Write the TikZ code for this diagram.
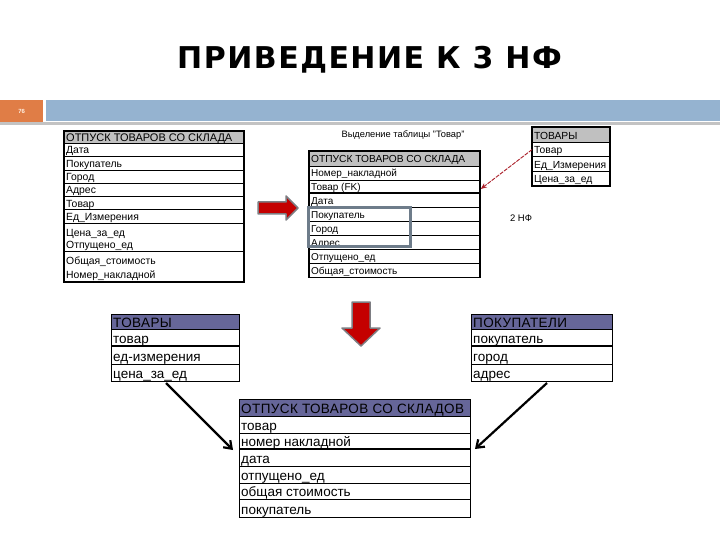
\documentclass[tikz,border=0pt]{standalone}
\usepackage{fontspec}
\setmainfont{Liberation Sans}
\newfontfamily\titlefont[LetterSpace=5]{DejaVu Sans}
\usetikzlibrary{arrows.meta,calc}
\definecolor{orangeC}{RGB}{224,125,70}
\definecolor{barblue}{RGB}{149,179,208}
\definecolor{lightrule}{RGB}{195,195,195}
\definecolor{hdrgray}{RGB}{192,192,192}
\definecolor{hdrpurple}{RGB}{102,102,153}
\definecolor{blockred}{RGB}{196,0,0}
\definecolor{blockedge}{RGB}{125,125,130}
\definecolor{selgray}{RGB}{110,124,138}
\definecolor{thinred}{RGB}{170,30,40}
\newcommand\mkcell[8]{%
  \node[cellbox, fill=#6, minimum width=#4pt, minimum height=#5pt] (#1) at (#2,#3) {};
  \node[celltext, #7] (#1t) at (#1.south west) {#8};}
\newcommand\mkcelltwo[9]{%
  \node[cellbox, fill=white, minimum width=#4pt, minimum height=#5pt] (#1) at (#2,#3) {};
  \node[celltext, #6] (#1t) at (#1.south west) {#9};
  \node[celltext, #6, yshift=#7pt] (#1u) at (#1.south west) {#8};}
\tikzset{
  cellbox/.style={draw=black, line width=0.8pt, anchor=north west, inner sep=0pt},
  celltext/.style={anchor=base west, inner xsep=2pt, inner ysep=0pt},
  tAh/.style={font=\fontsize{11}{12}\selectfont, yshift=2.5pt},
  tA/.style={font=\fontsize{10.4}{12}\selectfont, yshift=3.2pt},
  tA3/.style={font=\fontsize{10.4}{12}\selectfont, yshift=3.8pt},
  tB/.style={font=\fontsize{10}{11}\selectfont, yshift=3.6pt},
  tBh/.style={font=\fontsize{10.2}{11}\selectfont, yshift=3.8pt},
  tC/.style={font=\fontsize{10.3}{11}\selectfont, yshift=3.5pt},
  tD/.style={font=\fontsize{13.5}{15}\selectfont, yshift=3.3pt},
  tDh/.style={font=\fontsize{13.5}{15}\selectfont\addfontfeature{LetterSpace=3}, yshift=2.5pt},
  thickrule/.style={line width=2pt},
  outerbox/.style={draw=black, line width=1.5pt},
  blkarrow/.style={line width=2.2pt, -{Straight Barb[length=7pt,width=10pt,line width=2.2pt]}},
  redarrow/.style={draw=thinred, line width=0.9pt, dash pattern=on 4pt off 1.2pt, -{Stealth[length=6pt,width=5pt]}},
  blockarrow/.style={fill=blockred, draw=blockedge, line width=1.5pt, line join=round}
}
\begin{document}
\begin{tikzpicture}[x=1pt,y=-1pt]
\useasboundingbox (0,0) rectangle (720,540);
\fill[white] (0,0) rectangle (720,540);
% title
\node[font=\titlefont\bfseries\fontsize{30}{36}\selectfont, anchor=base, inner sep=0pt] (title) at (369.5,69) {ПРИВЕДЕНИЕ К 3 НФ};
% header band
\fill[lightrule] (0,122.5) rectangle (720,125);
\node[fill=orangeC, anchor=north west, minimum width=43pt, minimum height=22pt, inner sep=0pt] (numbox) at (0,100) {};
\node[font=\fontsize{6}{7}\selectfont\bfseries, text=white!90!orange] (num) at (numbox.center) {76};
\node[fill=barblue, anchor=north west, minimum width=674pt, minimum height=21pt, inner sep=0pt] (bar) at (46,100) {};

% ---------- table 1 ----------
\mkcell{t1h}{64}{131}{179}{12}{hdrgray}{tAh, yshift=-0.5pt}{ОТПУСК ТОВАРОВ СО СКЛАДА}
\mkcell{t1r1}{64}{143}{179}{13.3}{white}{tA}{Дата}
\mkcell{t1r2}{64}{156.3}{179}{13.3}{white}{tA}{Покупатель}
\mkcell{t1r3}{64}{169.6}{179}{13.3}{white}{tA}{Город}
\mkcell{t1r4}{64}{182.9}{179}{13.3}{white}{tA}{Адрес}
\mkcell{t1r5}{64}{196.2}{179}{13.3}{white}{tA}{Товар}
\mkcell{t1r6}{64}{209.5}{179}{13.3}{white}{tA}{Ед\_Измерения}
\mkcelltwo{t1r7}{64}{222.8}{179}{28.2}{tA}{12}{Цена\_за\_ед}{Отпущено\_ед}
\mkcelltwo{t1r8}{64}{251}{179}{30}{tA3}{13.5}{Общая\_стоимость}{Номер\_накладной}
\draw[outerbox] (t1h.north west) rectangle (t1r8.south east);

% ---------- table 2 ----------
\node[font=\fontsize{9.3}{10}\selectfont] (t2cap) at (403,135) {Выделение таблицы "Товар"};
\mkcell{t2h}{309}{151}{170}{14.7}{hdrgray}{tBh}{ОТПУСК ТОВАРОВ СО СКЛАДА}
\mkcell{t2r1}{309}{165.7}{170}{13.9}{white}{tB}{Номер\_накладной}
\mkcell{t2r2}{309}{179.6}{170}{13.9}{white}{tB}{Товар (FK)}
\mkcell{t2r3}{309}{193.5}{170}{13.9}{white}{tB}{Дата}
\mkcell{t2r4}{309}{207.4}{170}{13.9}{white}{tB}{Покупатель}
\mkcell{t2r5}{309}{221.3}{170}{13.9}{white}{tB}{Город}
\mkcell{t2r6}{309}{235.2}{170}{13.9}{white}{tB}{Адрес}
\mkcell{t2r7}{309}{249.1}{170}{13.9}{white}{tB}{Отпущено\_ед}
\mkcell{t2r8}{309}{263}{170}{13.9}{white}{tB}{Общая\_стоимость}
\draw[outerbox] (t2h.north west) rectangle (t2r8.south east);
\draw[thickrule] (t2r3.north west) -- (t2r3.north east);
\draw[draw=selgray, line width=3pt] (308.5,208) rectangle (410,246.5);

% ---------- table 3 ----------
\mkcell{t3h}{532}{127}{77}{15}{hdrgray}{tC}{ТОВАРЫ}
\mkcell{t3r1}{532}{142}{77}{14.4}{white}{tC}{Товар}
\mkcell{t3r2}{532}{156.4}{77}{14.4}{white}{tC}{Ед\_Измерения}
\mkcell{t3r3}{532}{170.8}{77}{14.4}{white}{tC}{Цена\_за\_ед}
\draw[outerbox] (t3h.north west) rectangle (t3r3.south east);
\draw[redarrow] (t3r1.west) -- ($(t2r2.east)+(1,2)$);
\node[font=\fontsize{9.5}{10}\selectfont] (nf2) at (521,218) {2 НФ};

% ---------- block arrows ----------
\draw[blockarrow] (258,202) -- (286,202) -- (286,196) -- (298,208) -- (286,220) -- (286,214) -- (258,214) -- cycle;
\draw[blockarrow] (352,302) -- (370,302) -- (370,328) -- (380,328) -- (361,346) -- (342,328) -- (352,328) -- cycle;

% ---------- bottom: ТОВАРЫ ----------
\mkcell{b1h}{111}{314}{128}{15}{hdrpurple}{tDh}{ТОВАРЫ}
\mkcell{b1r1}{111}{329}{128}{17}{white}{tD}{товар}
\mkcell{b1r2}{111}{346}{128}{17.5}{white}{tD}{ед-измерения}
\mkcell{b1r3}{111}{363.5}{128}{17.5}{white}{tD}{цена\_за\_ед}
\draw[thickrule] (b1r2.north west) -- (b1r2.north east);

% ---------- bottom: ПОКУПАТЕЛИ ----------
\mkcell{b2h}{471}{314}{141}{15}{hdrpurple}{tDh}{ПОКУПАТЕЛИ}
\mkcell{b2r1}{471}{329}{141}{17}{white}{tD}{покупатель}
\mkcell{b2r2}{471}{346}{141}{17.5}{white}{tD}{город}
\mkcell{b2r3}{471}{363.5}{141}{17.5}{white}{tD}{адрес}
\draw[thickrule] (b2r2.north west) -- (b2r2.north east);

% ---------- bottom: ОТПУСК ----------
\mkcell{b3h}{239}{399}{231}{17}{hdrpurple}{tDh, yshift=0.5pt}{ОТПУСК ТОВАРОВ СО СКЛАДОВ}
\mkcell{b3r1}{239}{416}{231}{16.5}{white}{tD}{товар}
\mkcell{b3r2}{239}{432.5}{231}{16.5}{white}{tD}{номер накладной}
\mkcell{b3r3}{239}{449}{231}{16.8}{white}{tD}{дата}
\mkcell{b3r4}{239}{465.8}{231}{16.8}{white}{tD}{отпущено\_ед}
\mkcell{b3r5}{239}{482.6}{231}{16.8}{white}{tD}{общая стоимость}
\mkcell{b3r6}{239}{499.4}{231}{17.6}{white}{tD}{покупатель}
\draw[thickrule] (b3r3.north west) -- (b3r3.north east);

% ---------- black arrows ----------
\coordinate (a1s) at (166,383);
\coordinate (a1e) at (233,450);
\coordinate (a2s) at (547,383);
\coordinate (a2e) at (475,449);
\draw[blkarrow] (a1s) -- (a1e);
\draw[blkarrow] (a2s) -- (a2e);
\end{tikzpicture}
\end{document}
